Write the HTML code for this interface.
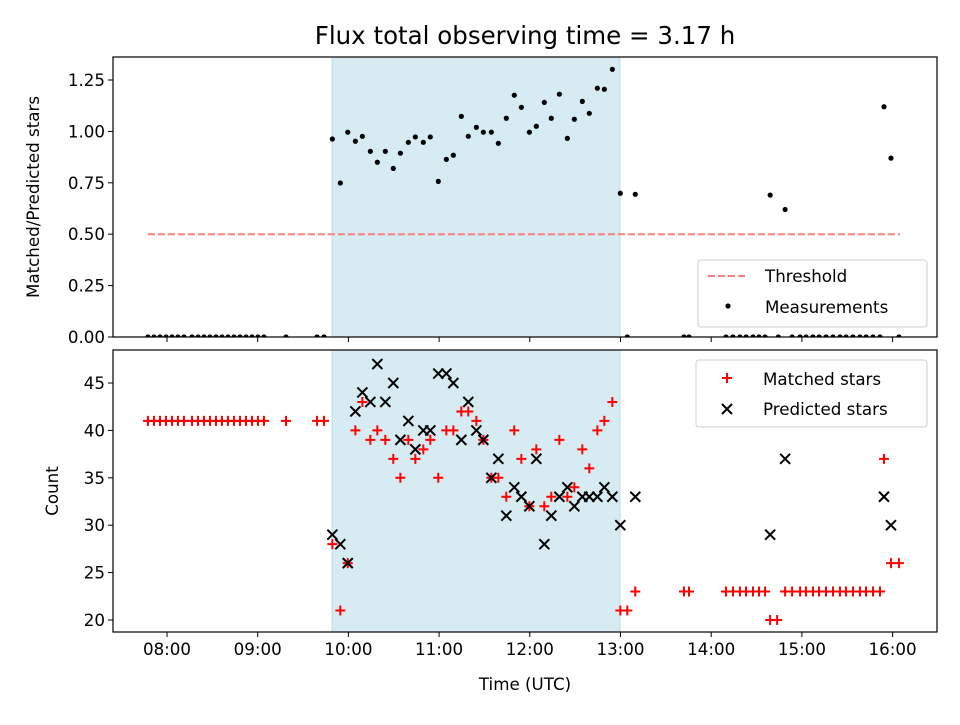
<!DOCTYPE html>
<html><head><meta charset="utf-8"><style>
html,body{margin:0;padding:0;background:#fff}
svg text{font-family:"DejaVu Sans","Liberation Sans",sans-serif;fill:#000}
</style></head><body>
<svg id="chart" width="960" height="720" viewBox="0 0 960 720" xmlns="http://www.w3.org/2000/svg">
<defs>
<clipPath id="clipTop"><rect x="113" y="57" width="824" height="280"/></clipPath>
<clipPath id="clipBot"><rect x="113" y="350" width="824" height="282"/></clipPath>
</defs>
</svg>
<script>
// ---- data ----
const shadeRange = [9.82, 12.995];
const thresholdValue = 0.5;
const thresholdRange = [7.79, 16.08];
const xTickHours = [8,9,10,11,12,13,14,15,16];
const xTickLabels = ["08:00","09:00","10:00","11:00","12:00","13:00","14:00","15:00","16:00"];
const topTickValues = [0,0.25,0.5,0.75,1.0,1.25];
const topTickLabels = ["0.00","0.25","0.50","0.75","1.00","1.25"];
const botTickValues = [20,25,30,35,40,45];
const botTickLabels = ["20","25","30","35","40","45"];

const leftTimes = [7.79,7.857,7.923,7.989,8.055,8.121,8.187,8.276,8.342,8.408,8.474,8.54,8.606,8.673,8.739,8.805,8.871,8.937,9.003,9.069,9.312,9.654,9.731];
const midTimes = [9.823,9.911,9.993,10.077,10.154,10.242,10.319,10.407,10.495,10.573,10.661,10.738,10.826,10.903,10.991,11.08,11.157,11.245,11.322,11.411,11.488,11.576,11.653,11.741,11.829,11.907,11.995,12.072,12.16,12.237,12.326,12.414,12.491,12.579,12.656,12.745,12.822,12.91,12.998];
const midRatio = [0.963,0.749,0.996,0.952,0.976,0.903,0.85,0.903,0.82,0.894,0.947,0.973,0.947,0.973,0.757,0.864,0.884,1.073,0.976,1.02,0.996,0.996,0.942,1.064,1.176,1.117,0.996,1.025,1.141,1.064,1.181,0.966,1.059,1.146,1.088,1.21,1.205,1.302,0.699];
const lateRatioTimes = [13.163,14.65,14.815,15.905,15.982];
const lateRatio = [0.694,0.69,0.62,1.12,0.87];
const zeroTimesRight = [13.075,13.70,13.755,14.163,14.24,14.317,14.384,14.461,14.527,14.594,14.74,14.892,14.98,15.045,15.122,15.189,15.266,15.343,15.42,15.486,15.563,15.64,15.707,15.784,15.861,16.07];

const midMatched = [28,21,26,40,43,39,40,39,37,35,39,37,38,39,35,40,40,42,42,41,39,35,35,33,40,37,32,38,32,33,39,33,34,38,36,40,41,43,21];
const midPredicted = [29,28,26,42,44,43,47,43,45,39,41,38,40,40,46,46,45,39,43,40,39,35,37,31,34,33,32,37,28,31,33,34,32,33,33,33,34,33,30];
const lateMatchedTimes = [13.075,13.163,13.70,13.755,14.163,14.24,14.317,14.384,14.461,14.527,14.594,14.65,14.727,14.815,14.892,14.98,15.045,15.122,15.189,15.266,15.343,15.42,15.486,15.563,15.64,15.707,15.784,15.861,15.905,15.982,16.07];
const lateMatched = [21,23,23,23,23,23,23,23,23,23,23,20,20,23,23,23,23,23,23,23,23,23,23,23,23,23,23,23,37,26,26];
const leftMatchedValue = 41;
const latePredTimes = [13.163,14.65,14.815,15.905,15.982];
const latePredicted = [33,29,37,33,30];

// ---- layout ----
const L=113,R=937, T1=57,B1=337, T2=350,B2=632;
const X = h => 167 + (h-8)*90.7;
const Y1 = v => 337 - v*205.6;
const Y2 = v => 620 - (v-20)*9.48;
const svg=document.getElementById('chart');
const NS='http://www.w3.org/2000/svg';
function mk(tag,attrs,parent){const e=document.createElementNS(NS,tag);for(const k in attrs)e.setAttribute(k,attrs[k]);(parent||svg).appendChild(e);return e;}

[[T1,B1,'top'],[T2,B2,'bottom']].forEach(([t,b,n])=>{
  const s=mk('rect',{x:X(shadeRange[0]),y:t,width:X(shadeRange[1])-X(shadeRange[0]),height:b-t,fill:'#add8e6','fill-opacity':0.5,stroke:'#add8e6','stroke-opacity':0.8});
  
  
});

const title=mk('text',{x:525,y:44,'font-size':24.5,'text-anchor':'middle'});
title.textContent='Flux total observing time = 3.17 h';



const th=mk('line',{x1:X(thresholdRange[0]),x2:X(thresholdRange[1]),y1:Y1(thresholdValue),y2:Y1(thresholdValue),stroke:'#ff7f7f','stroke-width':2,'stroke-dasharray':'7,3'});



const gTop=mk('g',{'clip-path':'url(#clipTop)'});


function dot(t,v){const c=mk('circle',{cx:X(t),cy:Y1(v),r:2.6,fill:'#000'},gTop);
  
  }
leftTimes.forEach(t=>dot(t,0));
midTimes.forEach((t,i)=>dot(t,midRatio[i]));
lateRatioTimes.forEach((t,i)=>dot(t,lateRatio[i]));
zeroTimesRight.forEach(t=>dot(t,0));

const gM=mk('g',{stroke:'#ff0000','stroke-width':2,'clip-path':'url(#clipBot)'});


const gP=mk('g',{stroke:'#000','stroke-width':2,'clip-path':'url(#clipBot)'});


function plus(t,v){const x=X(t),y=Y2(v);const p=mk('path',{d:`M${x-5},${y}H${x+5}M${x},${y-5}V${y+5}`},gM);
  
  }
function cross(t,v){const x=X(t),y=Y2(v);const p=mk('path',{d:`M${x-5},${y-5}L${x+5},${y+5}M${x-5},${y+5}L${x+5},${y-5}`},gP);
  
  }
leftTimes.forEach(t=>plus(t,leftMatchedValue));
midTimes.forEach((t,i)=>plus(t,midMatched[i]));
lateMatchedTimes.forEach((t,i)=>plus(t,lateMatched[i]));
midTimes.forEach((t,i)=>cross(t,midPredicted[i]));
latePredTimes.forEach((t,i)=>cross(t,latePredicted[i]));

[[T1,B1,'top-axes-frame'],[T2,B2,'bottom-axes-frame']].forEach(([t,b,n])=>{
  const f=mk('rect',{x:L,y:t,width:R-L,height:b-t,fill:'none',stroke:'#000','stroke-width':1.2});
  
  
});

xTickHours.forEach((h,i)=>{
  mk('line',{x1:X(h),x2:X(h),y1:B1,y2:B1+5,stroke:'#000'});
  mk('line',{x1:X(h),x2:X(h),y1:B2,y2:B2+5,stroke:'#000'});
  const t=mk('text',{x:X(h),y:B2+23,'font-size':16.7,'text-anchor':'middle'});
  t.textContent=xTickLabels[i];
  
  
});
topTickValues.forEach((v,i)=>{
  mk('line',{x1:L-5,x2:L,y1:Y1(v),y2:Y1(v),stroke:'#000'});
  const t=mk('text',{x:L-8,y:Y1(v)+6,'font-size':16.7,'text-anchor':'end'});
  t.textContent=topTickLabels[i];
  
  
});
botTickValues.forEach((v,i)=>{
  mk('line',{x1:L-5,x2:L,y1:Y2(v),y2:Y2(v),stroke:'#000'});
  const t=mk('text',{x:L-8,y:Y2(v)+6,'font-size':16.7,'text-anchor':'end'});
  t.textContent=botTickLabels[i];
  
  
});

const xt=mk('text',{x:525,y:690,'font-size':16.7,'text-anchor':'middle'});xt.textContent='Time (UTC)';


const yt1=mk('text',{x:0,y:0,'font-size':16.7,'text-anchor':'middle',transform:'translate(39,197) rotate(-90)'});yt1.textContent='Matched/Predicted stars';


const yt2=mk('text',{x:0,y:0,'font-size':16.7,'text-anchor':'middle',transform:'translate(58,491) rotate(-90)'});yt2.textContent='Count';



const lg1=mk('g',{});


mk('rect',{x:698,y:260,width:229,height:67,rx:3,fill:'#fff','fill-opacity':0.8,stroke:'#ccc'},lg1);
mk('line',{x1:708,x2:748,y1:276,y2:276,stroke:'#ff7f7f','stroke-width':2,'stroke-dasharray':'7,3'},lg1);
let e=mk('text',{x:765,y:282,'font-size':16.7},lg1);e.textContent='Threshold';


mk('circle',{cx:728,cy:306,r:2.6,fill:'#000'},lg1);
e=mk('text',{x:765,y:313,'font-size':16.7},lg1);e.textContent='Measurements';



const lg2=mk('g',{});


mk('rect',{x:696,y:360,width:231,height:67,rx:3,fill:'#fff','fill-opacity':0.8,stroke:'#ccc'},lg2);
mk('path',{d:'M722,378H732M727,373V383',stroke:'#ff0000','stroke-width':2},lg2);
e=mk('text',{x:763,y:385,'font-size':16.7},lg2);e.textContent='Matched stars';


mk('path',{d:'M722,404L732,414M722,414L732,404',stroke:'#000','stroke-width':2},lg2);
e=mk('text',{x:763,y:415,'font-size':16.7},lg2);e.textContent='Predicted stars';


</script>
</body></html>
